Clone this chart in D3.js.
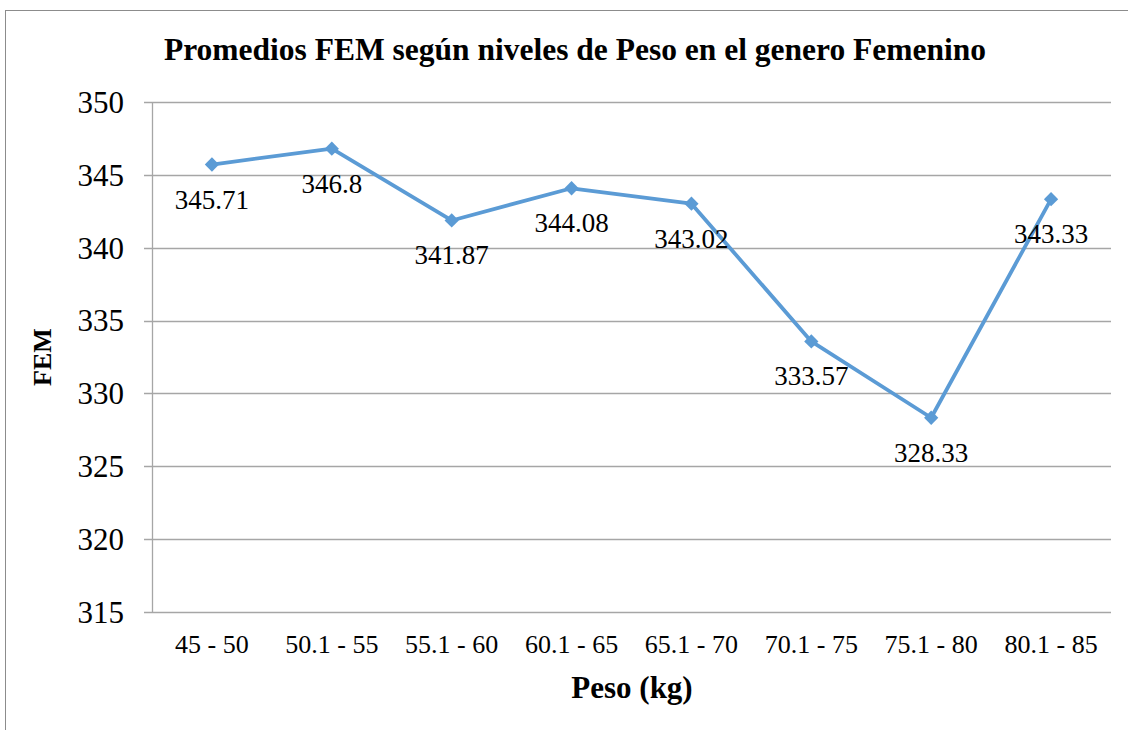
<!DOCTYPE html>
<html>
<head>
<meta charset="utf-8">
<script src="https://cdn.jsdelivr.net/npm/d3@7"></script>
<style>
  body { margin: 0; background: #fff; }
</style>
</head>
<body>
<svg id="chart" width="1128" height="730"></svg>
<script>
var categories = ["45 - 50", "50.1 - 55", "55.1 - 60", "60.1 - 65", "65.1 - 70", "70.1 - 75", "75.1 - 80", "80.1 - 85"];
var femValues = [345.71, 346.8, 341.87, 344.08, 343.02, 333.57, 328.33, 343.33];
var valueLabels = ["345.71", "346.8", "341.87", "344.08", "343.02", "333.57", "328.33", "343.33"];
var yTicks = [315, 320, 325, 330, 335, 340, 345, 350];

var FONT = "Liberation Serif";
var margin = {top: 102, right: 17, bottom: 118, left: 152};
var width = 1128, height = 730;

var svg = d3.select("#chart");

// outer frame
svg.append("rect")
   .attr("x", 5.5).attr("y", 10.5)
   .attr("width", 1140).attr("height", 740)
   .attr("fill", "none").attr("stroke", "#8c8c8c").attr("stroke-width", 1);

var x = d3.scaleBand()
    .domain(categories)
    .range([margin.left, width - margin.right]);

var y = d3.scaleLinear()
    .domain([315, 350])
    .range([height - margin.bottom, margin.top]);

// gridlines
svg.append("g").selectAll("line")
   .data(yTicks)
   .enter()
     .append("line")
     .attr("x1", margin.left - 8)
     .attr("x2", width - margin.right)
     .attr("y1", function(d) { return Math.round(y(d)) + 0.5; })
     .attr("y2", function(d) { return Math.round(y(d)) + 0.5; })
     .attr("stroke", "#a6a6a6")
     .attr("stroke-width", 1.3);

// y axis line
svg.append("line")
   .attr("x1", margin.left + 0.5).attr("x2", margin.left + 0.5)
   .attr("y1", margin.top).attr("y2", height - margin.bottom)
   .attr("stroke", "#a6a6a6").attr("stroke-width", 1.3);

// y tick labels
svg.append("g").selectAll("text")
   .data(yTicks)
   .enter()
     .append("text")
     .attr("x", 124)
     .attr("y", function(d) { return y(d); })
     .attr("dy", "0.35em")
     .attr("text-anchor", "end")
     .attr("font-family", FONT)
     .style("font-size", "31px")
     .text(function(d) { return d; });

// x tick labels
svg.append("g").selectAll("text")
   .data(categories)
   .enter()
     .append("text")
     .attr("x", function(d) { return x(d) + x.bandwidth() / 2; })
     .attr("y", 653)
     .attr("text-anchor", "middle")
     .attr("font-family", FONT)
     .style("font-size", "26px")
     .text(function(d) { return d; });

var pts = categories.map(function(c, i) { return {cat: c, v: femValues[i], label: valueLabels[i]}; });

var line = d3.line()
    .x(function(d) { return x(d.cat) + x.bandwidth() / 2; })
    .y(function(d) { return y(d.v); });

svg.append("path")
   .datum(pts)
   .attr("d", line)
   .attr("fill", "none")
   .attr("stroke", "#5b9bd5")
   .attr("stroke-width", 3.8)
   .attr("stroke-linejoin", "round");

svg.append("g").selectAll("path")
   .data(pts)
   .enter()
     .append("path")
     .attr("d", d3.symbol().type(d3.symbolDiamond2).size(130))
     .attr("transform", function(d) {
        return "translate(" + (x(d.cat) + x.bandwidth() / 2) + "," + y(d.v) + ")";
     })
     .attr("fill", "#5b9bd5");

// data labels
svg.append("g").selectAll("text")
   .data(pts)
   .enter()
     .append("text")
     .attr("x", function(d) { return x(d.cat) + x.bandwidth() / 2; })
     .attr("y", function(d) { return y(d.v) + 44; })
     .attr("text-anchor", "middle")
     .attr("font-family", FONT)
     .style("font-size", "27px")
     .text(function(d) { return d.label; });

// title
svg.append("text")
   .attr("x", 575).attr("y", 60)
   .attr("text-anchor", "middle")
   .attr("font-family", FONT)
   .style("font-size", "31.5px").style("font-weight", "bold")
   .text("Promedios FEM según niveles de Peso en el genero Femenino");

// axis titles
svg.append("text")
   .attr("x", 632).attr("y", 698)
   .attr("text-anchor", "middle")
   .attr("font-family", FONT)
   .style("font-size", "31px").style("font-weight", "bold")
   .text("Peso (kg)");

svg.append("text")
   .attr("transform", "translate(51,357) rotate(-90)")
   .attr("text-anchor", "middle")
   .attr("font-family", FONT)
   .style("font-size", "26px").style("font-weight", "bold")
   .text("FEM");
</script>
</body>
</html>
